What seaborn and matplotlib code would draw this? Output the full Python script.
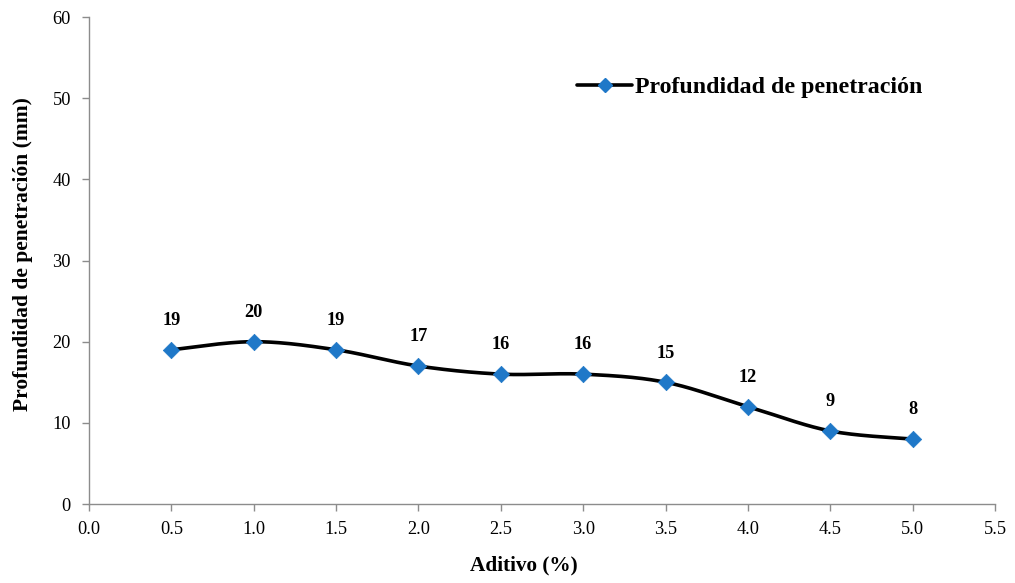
import numpy as np
import pandas as pd
import matplotlib
matplotlib.use("Agg")
import matplotlib.pyplot as plt
import seaborn as sns
from matplotlib.lines import Line2D

# Data
aditivo = [0.5, 1.0, 1.5, 2.0, 2.5, 3.0, 3.5, 4.0, 4.5, 5.0]
profundidad = [19, 20, 19, 17, 16, 16, 15, 12, 9, 8]
x_ticks = [0.0, 0.5, 1.0, 1.5, 2.0, 2.5, 3.0, 3.5, 4.0, 4.5, 5.0, 5.5]
y_ticks = [0, 10, 20, 30, 40, 50, 60]
serie = "Profundidad de penetración"

sns.set_theme(style="white")
plt.rcParams["font.family"] = ["Liberation Serif", "DejaVu Serif"]
plt.rcParams["text.color"] = "black"
plt.rcParams["axes.labelcolor"] = "black"

LINE = "black"
MARK = "#1f78c8"
SPINE = "#8c8c8c"


def smooth_curve(x, y, n=40):
    """Cubic Bezier smoothing through every point (Catmull-Rom control points)."""
    x = np.asarray(x, float)
    y = np.asarray(y, float)
    pts = np.column_stack([x, y])
    out = []
    for i in range(len(pts) - 1):
        p0 = pts[i - 1] if i > 0 else pts[i]
        p1 = pts[i]
        p2 = pts[i + 1]
        p3 = pts[i + 2] if i + 2 < len(pts) else pts[i + 1]
        c1 = p1 + (p2 - p0) / 6.0
        c2 = p2 - (p3 - p1) / 6.0
        t = np.linspace(0, 1, n)[:, None]
        seg = ((1 - t) ** 3) * p1 + 3 * ((1 - t) ** 2) * t * c1 + 3 * (1 - t) * t ** 2 * c2 + t ** 3 * p2
        out.append(seg if i == 0 else seg[1:])
    seg = np.vstack(out)
    return seg[:, 0], seg[:, 1]


fig = plt.figure(figsize=(10.15, 5.83), dpi=100)
ax = fig.add_axes([0.0877, 0.1355, 0.8926, 0.8353])

sx, sy = smooth_curve(aditivo, profundidad)
curve = pd.DataFrame({"x": sx, "y": sy})
pts = pd.DataFrame({"Aditivo": aditivo, "Profundidad": profundidad})

sns.lineplot(data=curve, x="x", y="y", ax=ax, color=LINE, linewidth=2.6,
             sort=False, estimator=None, zorder=2)
sns.scatterplot(data=pts, x="Aditivo", y="Profundidad", ax=ax, marker="D",
                s=70, color=MARK, edgecolor=MARK, linewidth=0.5, zorder=3)

for xv, yv in zip(aditivo, profundidad):
    ax.annotate(f"{yv}", (xv, yv), xytext=(0, 21), textcoords="offset points",
                ha="center", va="center", fontsize=13.2, fontweight="bold",
                color="black")

ax.set_xlim(0, 5.5)
ax.set_ylim(0, 60)
ax.set_xticks(x_ticks)
ax.set_xticklabels([f"{v:.1f}" for v in x_ticks])
ax.set_yticks(y_ticks)
ax.set_yticklabels([str(v) for v in y_ticks])

for side in ("top", "right"):
    ax.spines[side].set_visible(False)
for side in ("left", "bottom"):
    ax.spines[side].set_color(SPINE)
    ax.spines[side].set_linewidth(1.0)

ax.tick_params(axis="both", which="major", direction="out", length=5, width=1,
               color=SPINE, labelsize=13.2, labelcolor="black",
               bottom=True, left=True)
ax.tick_params(axis="x", pad=7)
ax.tick_params(axis="y", pad=8)

ax.set_xlabel("Aditivo (%)", fontsize=15.3, fontweight="bold", labelpad=13)
ax.xaxis.set_label_coords(0.48, -0.105)
ax.set_ylabel("Profundidad de penetración (mm)", fontsize=15.5,
              fontweight="bold", labelpad=10)
ax.yaxis.set_label_coords(-0.062, 0.513)

handle = Line2D([0], [0], color=LINE, linewidth=2.6, marker="D",
                markersize=7, markerfacecolor=MARK, markeredgecolor=MARK)
ax.legend([handle], [serie], loc="center left", bbox_to_anchor=(0.539, 0.856),
          frameon=False, prop={"size": 17.2, "weight": "bold"},
          handlelength=2.3, handletextpad=0.1, borderaxespad=0,
          borderpad=0)

fig.savefig("out.png", dpi=100, facecolor="white")
